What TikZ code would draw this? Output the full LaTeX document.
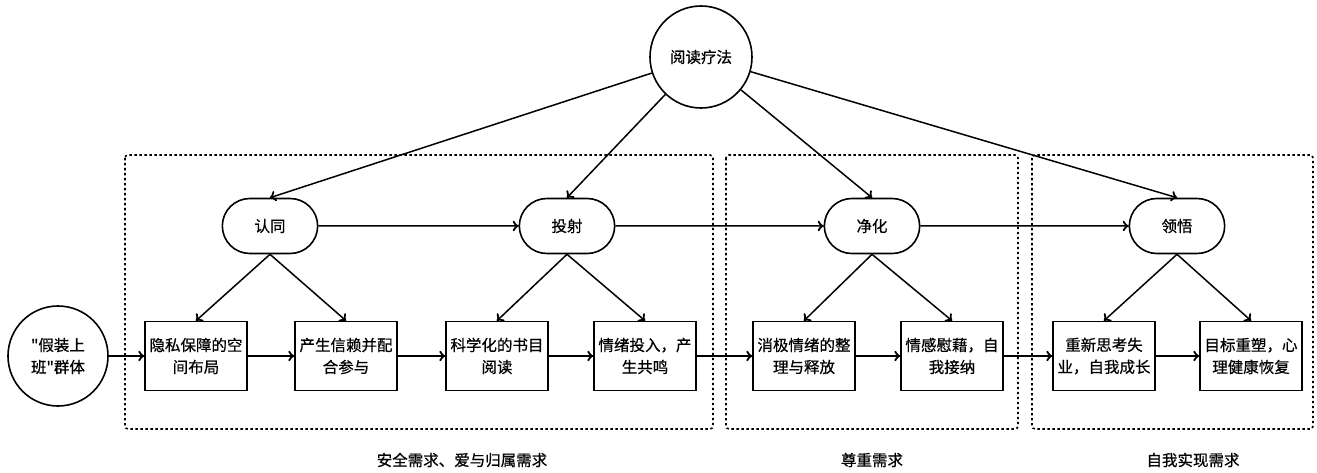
\documentclass[tikz,border=0pt]{standalone}
\usepackage{fontspec}
\setmainfont{Noto Sans CJK SC}[Ligatures=TeXOff, FakeBold=0.6]
\usepackage{tikz}
\usetikzlibrary{arrows,shapes.misc,decorations.markings}
\tikzstyle {round node} = [circle, draw, line width=1.6pt, minimum size=102pt, inner sep=0pt, align=center]
\tikzstyle {stage node} = [rounded rectangle, draw, line width=1.6pt, minimum width=102pt, minimum height=55pt]
\tikzstyle {task box} = [rectangle, draw, line width=1.6pt, minimum width=102pt, minimum height=69pt, align=center]
\tikzstyle {group box} = [line width=1.6pt, dash pattern=on 2.4pt off 2.6pt, rounded corners=3pt]
\tikzset{edge/.style = {line width=1.5pt, decoration={markings,mark=at position 1 with %
            {\arrow[scale=1.5,>=to]{>}}},postaction={decorate}}}

\begin{document}
\begin{tikzpicture}[x=1pt, y=-1pt, font=\fontsize{15.5}{22}\selectfont]
            \useasboundingbox (0, 0) rectangle (1317, 473);
            % dotted groups
            \draw[group box] (125, 155) rectangle (713, 429);
            \draw[group box] (726, 155) rectangle (1018, 429);
            \draw[group box] (1032, 155) rectangle (1313, 429);
            \node[round node] (top) at (701, 57) {阅读疗法};
            \node[round node, minimum size=100pt] (grp) at (58, 356) {"假装上\\班"群体};
            \node[stage node] (s1) at (270, 226) {认同};
            \node[stage node] (s2) at (567, 226) {投射};
            \node[stage node] (s3) at (872, 226) {净化};
            \node[stage node] (s4) at (1177, 226) {领悟};
            \node[task box] (b1) at (196, 356) {隐私保障的空\\间布局};
            \node[task box] (b2) at (346, 356) {产生信赖并配\\合参与};
            \node[task box] (b3) at (497, 356) {科学化的书目\\阅读};
            \node[task box] (b4) at (645, 356) {情绪投入，产\\生共鸣};
            \node[task box] (b5) at (804, 356) {消极情绪的整\\理与释放};
            \node[task box] (b6) at (952, 356) {情感慰藉，自\\我接纳};
            \node[task box] (b7) at (1104, 356) {重新思考失\\业，自我成长};
            \node[task box] (b8) at (1251, 356) {目标重塑，心\\理健康恢复};
            \node (n1) at (462, 460) {安全需求、爱与归属需求};
            \node (n2) at (872, 460) {尊重需求};
            \node (n3) at (1193, 460) {自我实现需求};
            \draw[edge] (top) -- (s1.north);
            \draw[edge] (top) -- (s2.north);
            \draw[edge] (top) -- (s3.north);
            \draw[edge] (top) -- (s4.north);
            \draw[edge] (s1) -- (s2);
            \draw[edge] (s2) -- (s3);
            \draw[edge] (s3) -- (s4);
            \draw[edge] (s1.south) -- (b1.north);
            \draw[edge] (s1.south) -- (b2.north);
            \draw[edge] (s2.south) -- (b3.north);
            \draw[edge] (s2.south) -- (b4.north);
            \draw[edge] (s3.south) -- (b5.north);
            \draw[edge] (s3.south) -- (b6.north);
            \draw[edge] (s4.south) -- (b7.north);
            \draw[edge] (s4.south) -- (b8.north);
            \draw[edge] (grp) -- (b1);
            \draw[edge] (b1) -- (b2);
            \draw[edge] (b2) -- (b3);
            \draw[edge] (b3) -- (b4);
            \draw[edge] (b4) -- (b5);
            \draw[edge] (b5) -- (b6);
            \draw[edge] (b6) -- (b7);
            \draw[edge] (b7) -- (b8);
        \end{tikzpicture}
\end{document}
